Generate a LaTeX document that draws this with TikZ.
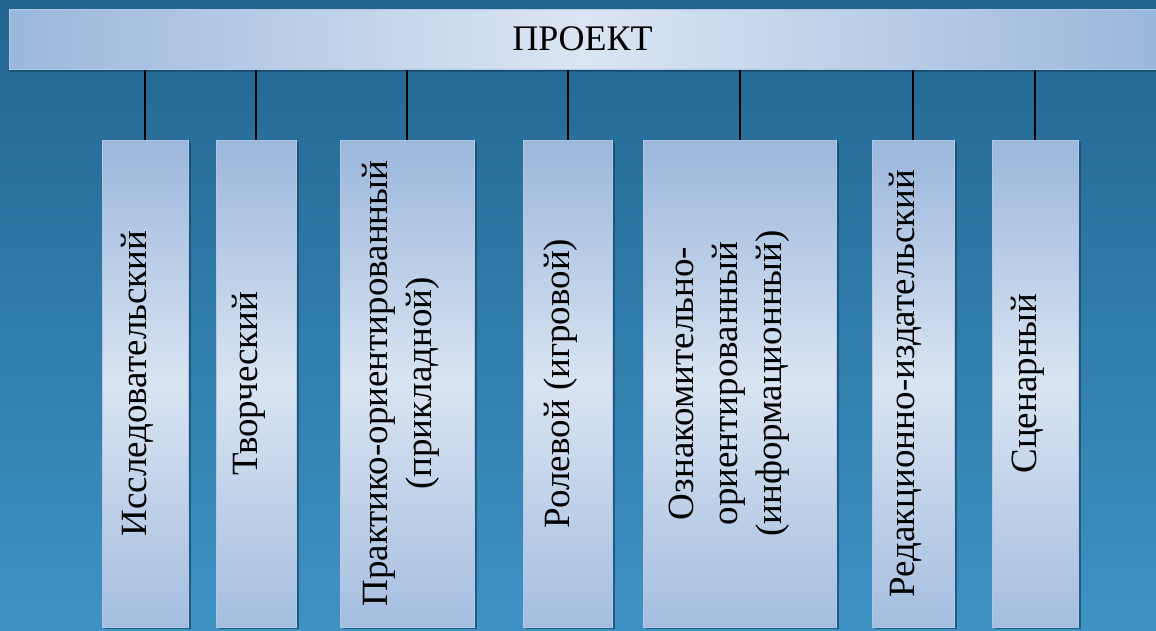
\documentclass[tikz,border=0pt]{standalone}
\usepackage{fontspec}
\setmainfont{Liberation Serif}
\usetikzlibrary{shadows}
\definecolor{bgtop}{HTML}{22658F}
\definecolor{bgbot}{HTML}{3E92C4}
\definecolor{boxdark}{HTML}{9BB7DC}
\definecolor{boxlight}{HTML}{D9E4F2}
\definecolor{boxedge}{HTML}{B1C7E6}
\definecolor{shade}{HTML}{1B4A6E}
\newcommand{\vtext}[2][14pt]{\rotatebox{90}{\begin{tabular}{@{}c@{}}#2\end{tabular}}\hspace*{#1}}

\begin{document}
\begin{tikzpicture}[x=1pt,y=-1pt,
  kind/.style={draw=boxedge, line width=1pt, top color=boxdark, bottom color=boxdark!85!boxlight, middle color=boxlight,
    minimum height=487pt, inner sep=0pt, font=\fontsize{37}{44}\selectfont,
    drop shadow={shadow xshift=2.5pt, shadow yshift=-2pt, fill=shade, opacity=0.75}},
  head/.style={draw=boxedge, line width=1pt, left color=boxdark, right color=boxdark, middle color=boxlight!95!white,
    minimum width=1147pt, minimum height=60pt, inner sep=0pt, font=\fontsize{36}{41}\selectfont,
    drop shadow={shadow xshift=0pt, shadow yshift=-3pt, fill=shade, opacity=0.75}},
  link/.style={line width=2pt}]
  \useasboundingbox (0,0) rectangle (1156,630);
  \fill[top color=bgtop, bottom color=bgbot] (0,0) rectangle (1156,630);
  \node[head] (proj) at (582.5,39) {ПРОЕКТ};
  \node[kind, minimum width=86pt] (issl) at (145,383.5) {\vtext{Исследовательский}};
  \node[kind, minimum width=80pt] (tvor) at (256,383.5) {\vtext{Творческий}};
  \node[kind, minimum width=134pt] (prak) at (407,383.5) {\vtext[12pt]{Практико-ориентированный\\(прикладной)}};
  \node[kind, minimum width=89pt] (role) at (567.5,383.5) {\vtext{Ролевой (игровой)}};
  \node[kind, minimum width=193pt] (ozna) at (739.5,383.5) {\vtext[22pt]{Ознакомительно-\\ориентированный\\(информационный)}};
  \node[kind, minimum width=82pt] (reda) at (913,383.5) {\vtext{Редакционно-издательский}};
  \node[kind, minimum width=86pt] (scen) at (1035,383.5) {\vtext{Сценарный}};
  \draw[link] (issl.north) -- (issl.north |- proj.south);
  \draw[link] (tvor.north) -- (tvor.north |- proj.south);
  \draw[link] (prak.north) -- (prak.north |- proj.south);
  \draw[link] (role.north) -- (role.north |- proj.south);
  \draw[link] (ozna.north) -- (ozna.north |- proj.south);
  \draw[link] (reda.north) -- (reda.north |- proj.south);
  \draw[link] (scen.north) -- (scen.north |- proj.south);
\end{tikzpicture}
\end{document}
